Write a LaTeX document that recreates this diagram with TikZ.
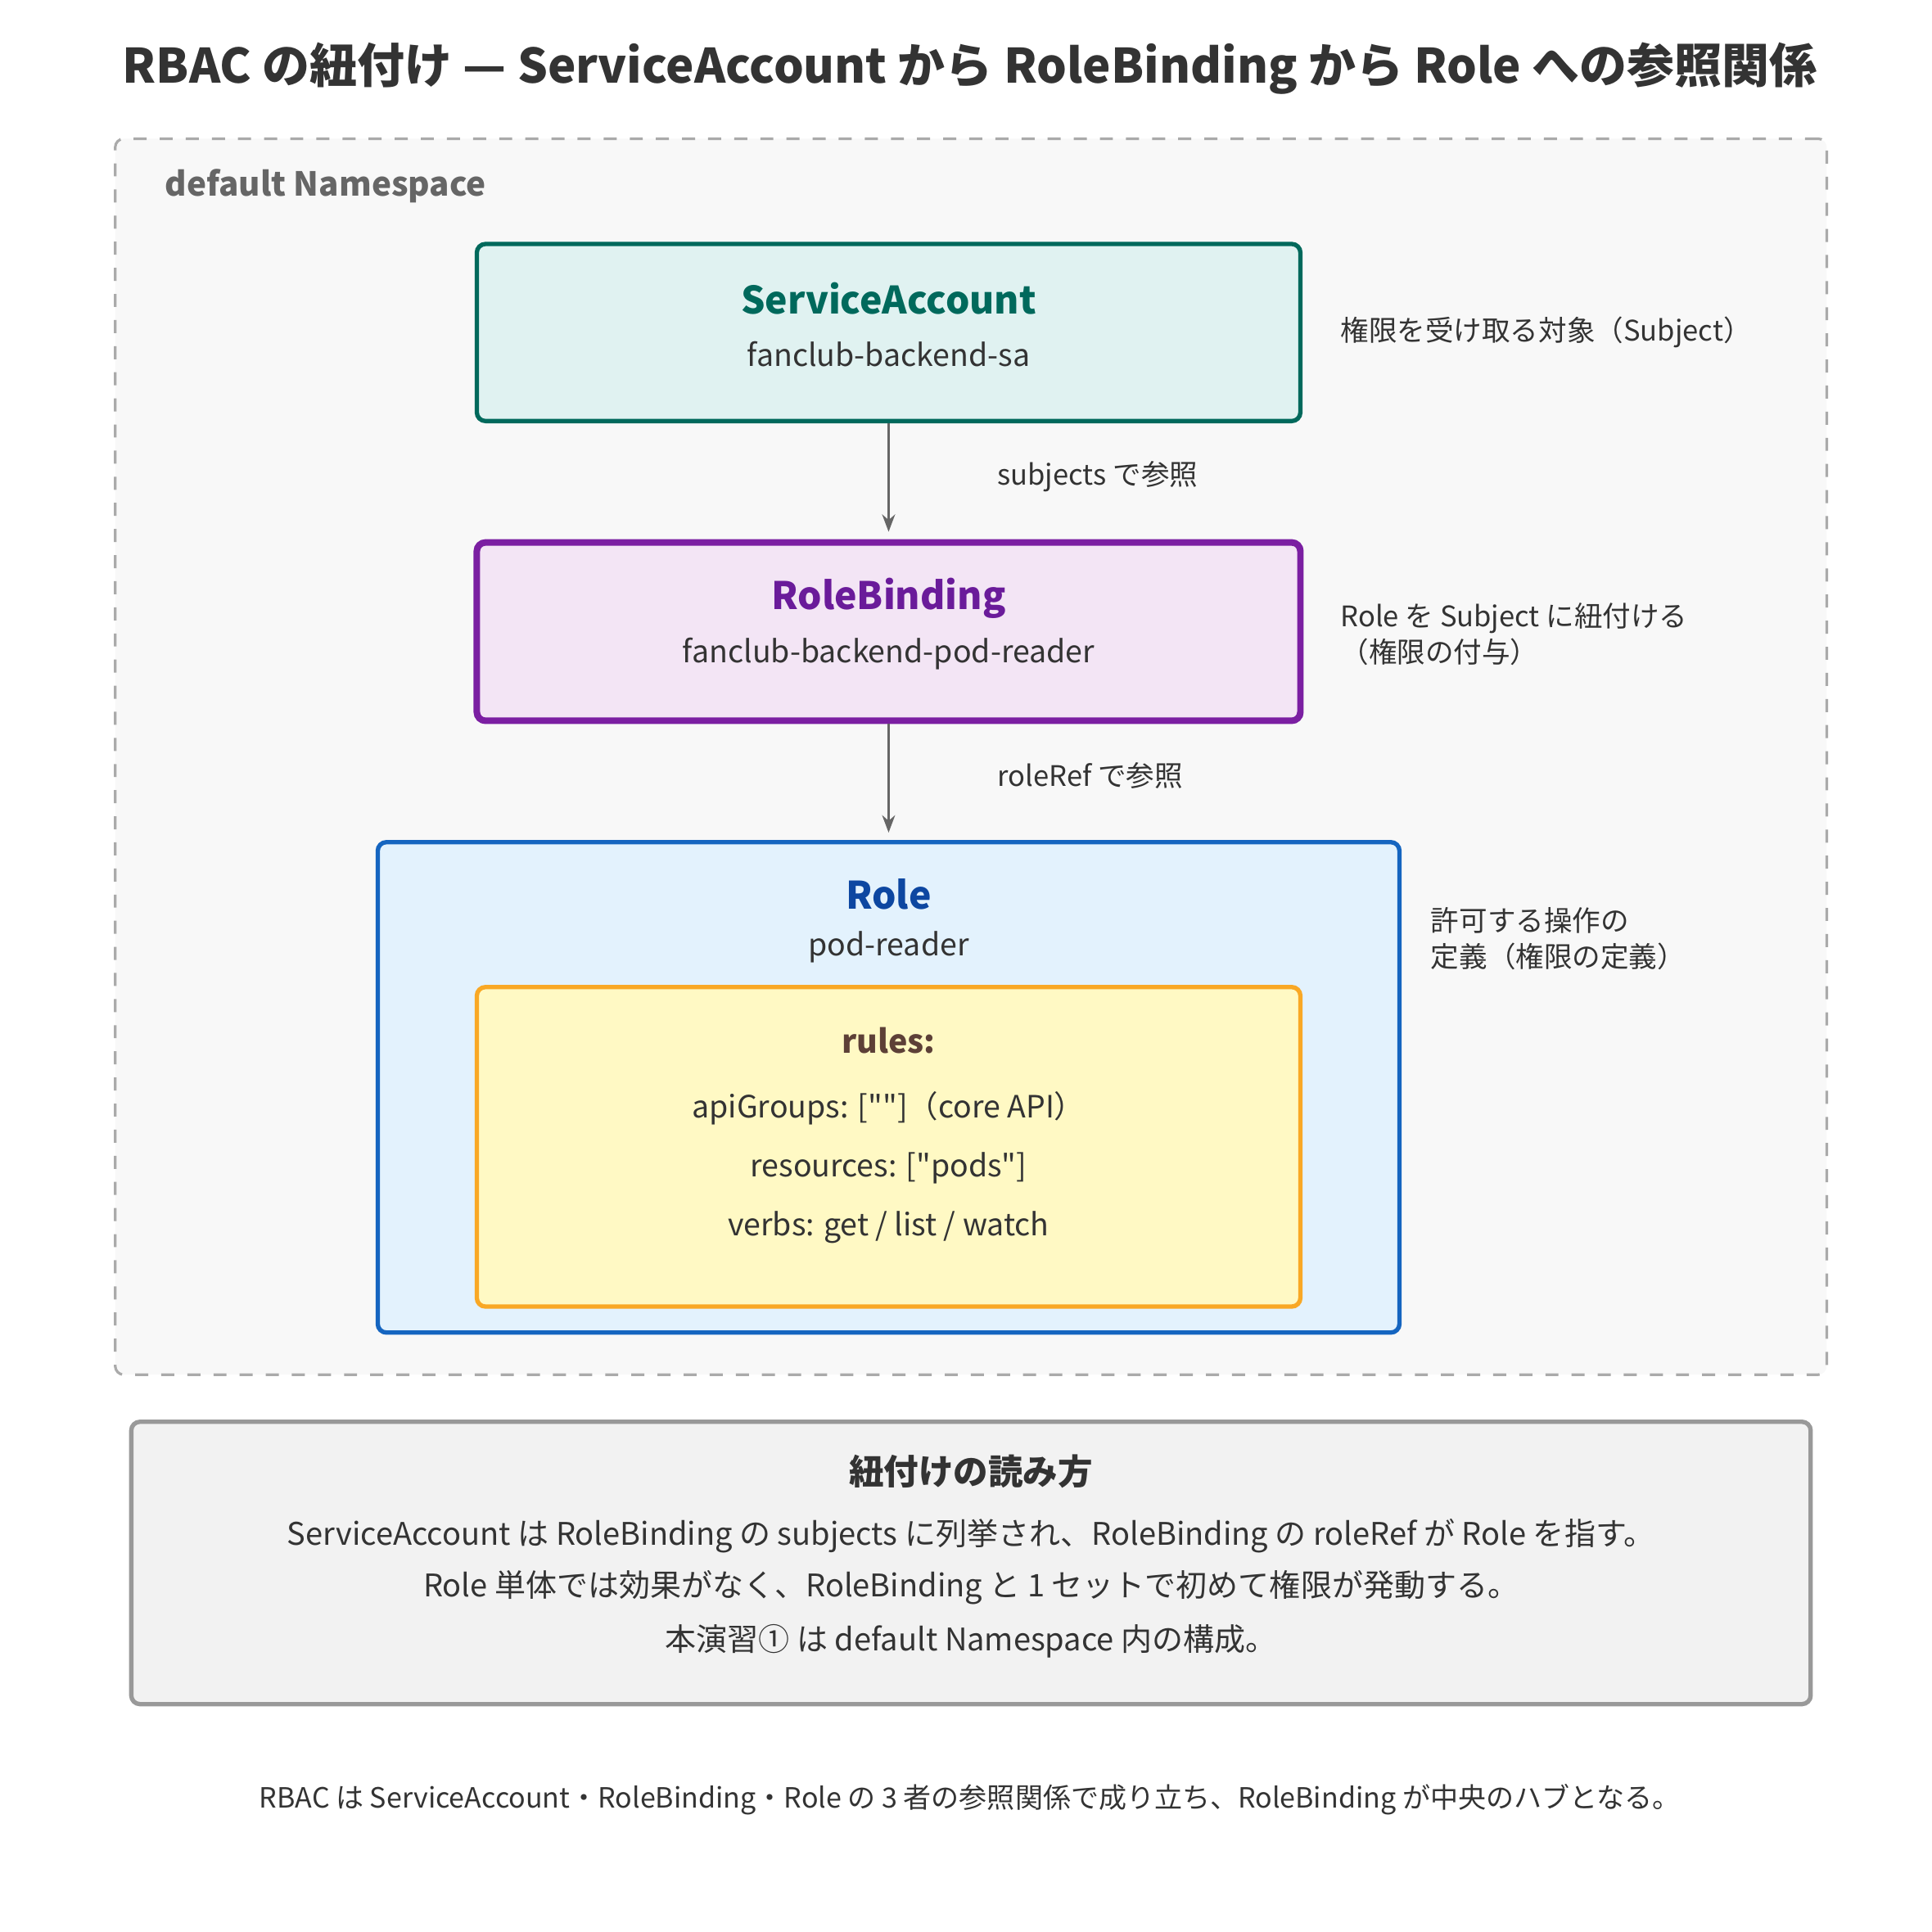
\documentclass[tikz,border=0pt]{standalone}
\usepackage{fontspec}
\setmainfont{Noto Sans CJK JP}
\usetikzlibrary{arrows.meta}
\definecolor{nsfill}{HTML}{F8F8F8}
\definecolor{nsline}{HTML}{AAAAAA}
\definecolor{safill}{HTML}{E0F2F1}
\definecolor{saline}{HTML}{00695C}
\definecolor{rbfill}{HTML}{F3E5F5}
\definecolor{rbline}{HTML}{7B1FA2}
\definecolor{rbtext}{HTML}{6A1B9A}
\definecolor{rofill}{HTML}{E3F2FD}
\definecolor{roline}{HTML}{1565C0}
\definecolor{rotext}{HTML}{0D47A1}
\definecolor{rufill}{HTML}{FFF9C4}
\definecolor{ruline}{HTML}{F9A825}
\definecolor{rutext}{HTML}{5D4037}
\definecolor{txt}{HTML}{333333}
\tikzset{
  box/.style={draw, rounded corners=2pt, inner sep=0pt},
  head/.style={font=\fontsize{8.7}{10}\selectfont\bfseries},
  sub/.style={font=\fontsize{7.05}{8}\selectfont, text=txt},
  note/.style={font=\fontsize{6.5}{8.3}\selectfont, text=txt, anchor=west, align=left},
  ref/.style={-{Stealth[length=4pt,width=3pt]}, draw=black!60, line width=0.4pt, shorten >=1.7pt}
}
\begin{document}
\begin{tikzpicture}
\useasboundingbox (0,0) rectangle (15.6,-15.6);

% Title
\node[font=\fontsize{10.9}{12}\selectfont\bfseries, text=txt] (title) at (7.83,-0.55) {RBAC の紐付け — ServiceAccount から RoleBinding から Role への参照関係};

% Namespace
\node[box, dashed, draw=nsline, fill=nsfill, line width=0.6pt, minimum width=13.82cm, minimum height=9.98cm] (ns) at (7.84,-6.11) {};
\node[font=\fontsize{7.6}{9}\selectfont\bfseries, text=black!60, anchor=west] (nslabel) at (1.21,-1.5) {default Namespace};

% ServiceAccount
\node[box, draw=saline, fill=safill, line width=1pt, minimum width=6.65cm, minimum height=1.43cm] (sa) at (7.175,-2.685) {};
\node[head, text=saline] (satitle) at (7.175,-2.41) {ServiceAccount};
\node[sub] (saname) at (7.175,-2.86) {fanclub-backend-sa};
\node[note] (sanote) at (10.7,-2.68) {権限を受け取る対象（Subject）};

% RoleBinding
\node[box, draw=rbline, fill=rbfill, line width=1.5pt, minimum width=6.65cm, minimum height=1.44cm] (rb) at (7.175,-5.10) {};
\node[head, text=rbtext] (rbtitle) at (7.175,-4.83) {RoleBinding};
\node[sub] (rbname) at (7.175,-5.28) {fanclub-backend-pod-reader};
\node[note] (rbnote) at (10.7,-5.12) {Role を Subject に紐付ける\\（権限の付与）};

% Role
\node[box, draw=roline, fill=rofill, line width=1pt, minimum width=8.25cm, minimum height=3.96cm] (ro) at (7.175,-8.78) {};
\node[head, text=rotext] (rotitle) at (7.175,-7.22) {Role};
\node[sub] (roname) at (7.175,-7.65) {pod-reader};
\node[note] (ronote) at (11.43,-7.58) {許可する操作の\\定義（権限の定義）};

% rules
\node[box, draw=ruline, fill=rufill, line width=1pt, minimum width=6.65cm, minimum height=2.58cm] (ru) at (7.175,-9.26) {};
\node[head, font=\fontsize{7.4}{9}\selectfont\bfseries, text=rutext] (rutitle) at (7.175,-8.40) {rules:};
\node[sub] (rule1) at (7.175,-8.95) {apiGroups: [\textquotedbl\textquotedbl]（core API）};
\node[sub] (rule2) at (7.175,-9.43) {resources: [\textquotedbl pods\textquotedbl]};
\node[sub] (rule3) at (7.175,-9.91) {verbs: get / list / watch};

% references
\draw[ref] (sa.south) -- (rb.north);
\draw[ref] (rb.south) -- (ro.north);
\node[note] (subjref) at (7.93,-3.85) {subjects で参照};
\node[note] (roleref) at (7.93,-6.26) {roleRef で参照};

% summary
\node[box, draw=black!40, fill=black!5, line width=1pt, minimum width=13.56cm, minimum height=2.28cm] (sum) at (7.84,-12.62) {};
\node[head, font=\fontsize{8}{10}\selectfont\bfseries, text=txt] (sumtitle) at (7.84,-11.88) {紐付けの読み方};
\node[sub, font=\fontsize{7.15}{8}\selectfont] (sum1) at (7.84,-12.40) {ServiceAccount は RoleBinding の subjects に列挙され、RoleBinding の roleRef が Role を指す。};
\node[sub, font=\fontsize{7.15}{8}\selectfont] (sum2) at (7.84,-12.82) {Role 単体では効果がなく、RoleBinding と 1 セットで初めて権限が発動する。};
\node[sub, font=\fontsize{7.15}{8}\selectfont] (sum3) at (7.84,-13.25) {本演習① は default Namespace 内の構成。};

% footer
\node[font=\fontsize{6.4}{7}\selectfont, text=txt] (foot) at (7.83,-14.53) {RBAC は ServiceAccount・RoleBinding・Role の 3 者の参照関係で成り立ち、RoleBinding が中央のハブとなる。};
\end{tikzpicture}
\end{document}
